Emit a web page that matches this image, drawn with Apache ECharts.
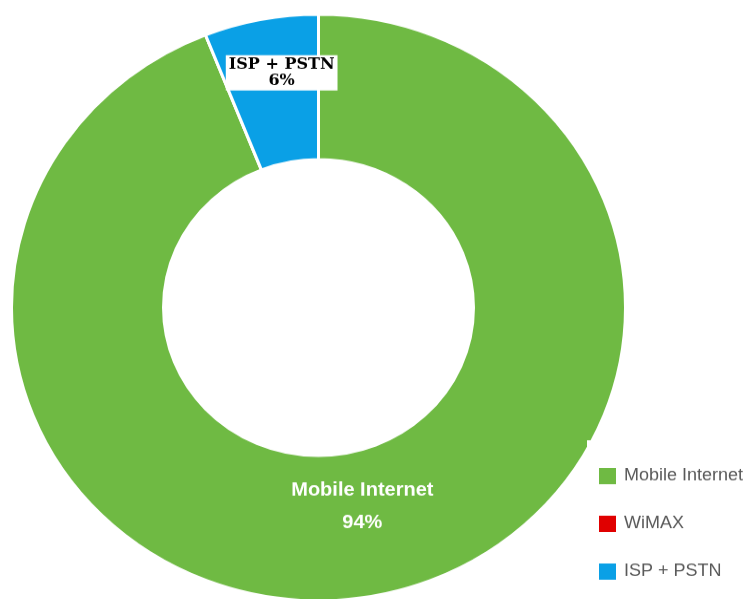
<!DOCTYPE html>
<html><head><meta charset="utf-8">
<script src="https://cdn.jsdelivr.net/npm/echarts@6/dist/echarts.min.js"></script>
<style>
html,body{margin:0;padding:0;background:#fff;overflow:hidden;width:750px;height:599px}
#wrap{width:750px;height:627px;transform:scaleY(0.955);transform-origin:0 0}
#chart{width:750px;height:627px}
</style></head>
<body><div id="wrap"><div id="chart"></div></div>
<script>
const categories = ['Mobile Internet', 'WiMAX', 'ISP + PSTN'];
const values = [94, 0, 6];
const colors = ['#6FBA43', '#E00000', '#0AA0E6'];

const labelStyles = [
  { show: true, position: 'inside', color: '#fff', fontFamily: 'Liberation Sans, Arial, sans-serif', fontWeight: 'bold', fontSize: 20, lineHeight: 34, offset: [0, -21] },
  { show: false },
  { show: true, position: 'inside', color: '#000', fontFamily: 'DejaVu Serif, serif', fontWeight: 'bold', fontSize: 16, lineHeight: 17, backgroundColor: '#fff', padding: [2, 3, 1, 3], offset: [7, -16] }
];

const chart = echarts.init(document.getElementById('chart'), null, { renderer: 'canvas' });
chart.setOption({
  animation: false,
  color: colors,
  legend: {
    orient: 'vertical',
    left: 587,
    top: 461,
    padding: [27, 40, 0, 10],
    backgroundColor: '#fff',
    itemWidth: 19,
    itemHeight: 19,
    itemGap: 29,
    icon: 'rect',
    data: categories,
    textStyle: { color: '#595959', fontFamily: 'Liberation Sans, Arial, sans-serif', fontSize: 18, lineHeight: 16, padding: [0, 0, 0, 2] }
  },
  series: [{
    type: 'pie',
    center: [318.5, 322],
    radius: [155, 307],
    startAngle: 90,
    clockwise: true,
    avoidLabelOverlap: false,
    stillShowZeroSum: true,
    itemStyle: { borderColor: '#fff', borderWidth: 3 },
    labelLine: { show: false },
    label: { formatter: '{b}\n{c}%' },
    emphasis: { disabled: true },
    data: categories.map((name, i) => ({ name, value: values[i], label: labelStyles[i] }))
  }]
});
</script>
</body></html>
